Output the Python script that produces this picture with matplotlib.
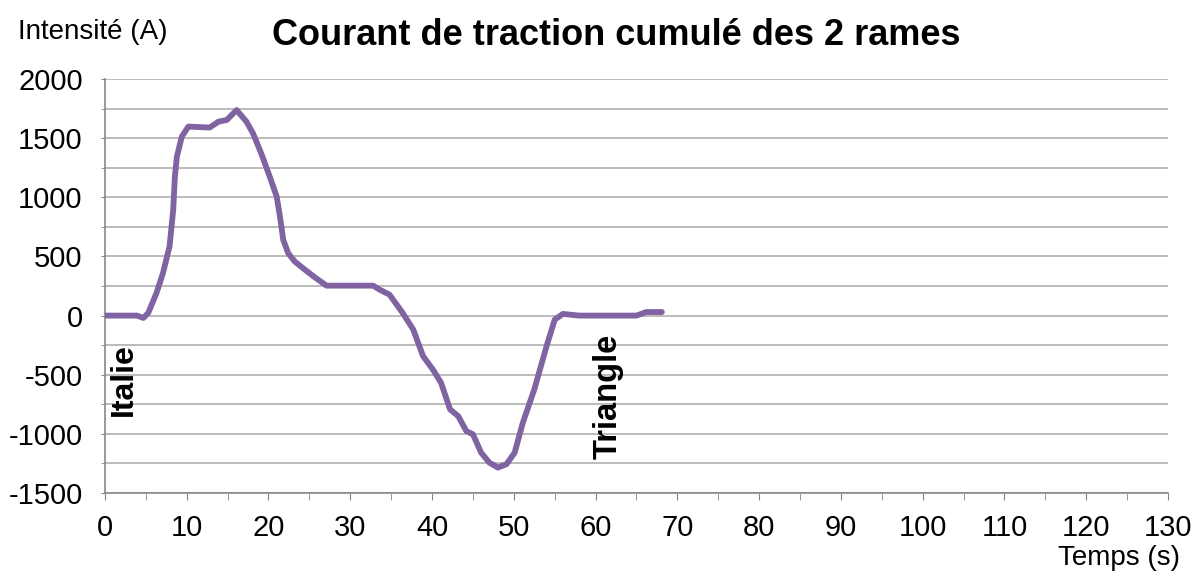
import numpy as np
import matplotlib.pyplot as plt

plt.rcParams['font.family'] = ['Liberation Sans', 'DejaVu Sans']
plt.rcParams['axes.unicode_minus'] = False

# temps (s) et courant (A)
temps = [0, 3.9, 4.7, 5.3, 6.3, 7.1, 7.9, 8.35, 8.55, 8.8, 9.4, 10.2, 12.8, 13.9,
         14.9, 16.1, 17.3, 18.1, 19.1, 20.0, 21.0, 21.4, 21.8, 22.4, 23.2, 24.2,
         25.5, 27.1, 32.8, 33.6, 34.8, 36.4, 37.7, 38.9, 40.1, 41.1, 42.2, 43.2,
         44.2, 45.0, 46.0, 47.0, 48.05, 49.1, 50.1, 51.1, 52.5, 54.0, 55.0, 56.0,
         58.0, 65.0, 66.2, 68.1]
courant = [0, 0, -20, 23, 190, 360, 585, 895, 1175, 1345, 1513, 1598, 1590, 1640,
           1654, 1738, 1640, 1542, 1373, 1204, 1007, 838, 641, 529, 458, 402,
           332, 253, 253, 219, 177, 23, -118, -343, -456, -568, -793, -850,
           -977, -1004, -1159, -1243, -1285, -1257, -1159, -906, -625, -259, -34, 14,
           0, 0, 30, 30]

xticks = list(range(0, 131, 10))
yticks = list(range(-1500, 2001, 500))

fig = plt.figure(figsize=(11.98, 5.77), dpi=100)
ax = fig.add_axes([0.0876, 0.1456, 0.8874, 0.7174])

ax.plot(temps, courant, color='#8064A2', lw=4.2, solid_joinstyle='round',
        solid_capstyle='round', zorder=3)

ax.set_xlim(0, 130)
ax.set_ylim(-1500, 2000)
ax.set_xticks(xticks)
ax.set_xticks(np.arange(5, 130, 10), minor=True)
ax.set_yticks(yticks)
ax.set_yticks(np.arange(-1250, 2000, 500), minor=True)
ax.grid(axis='y', which='both', color='#AFAFAF', lw=1.2)
ax.tick_params(axis='x', which='both', length=5, color='#888888', labelsize=21, pad=10)
ax.tick_params(axis='y', which='both', length=3, color='#888888', labelsize=21, pad=13)
for s in ['top', 'right']:
    ax.spines[s].set_visible(False)
for s in ['left', 'bottom']:
    ax.spines[s].set_color('#888888')
    ax.spines[s].set_linewidth(1.2)

ax.text(2.3, -540, 'Italie', rotation=90, fontsize=23, fontweight='bold',
        ha='center', va='center')
ax.text(61.5, -680, 'Triangle', rotation=90, fontsize=23.5, fontweight='bold',
        ha='center', va='center')

fig.text(0.514, 0.938, 'Courant de traction cumulé des 2 rames', fontsize=26,
         fontweight='bold', ha='center', va='center')
fig.text(0.015, 0.944, 'Intensité (A)', fontsize=20, ha='left', va='center')
fig.text(0.985, 0.033, 'Temps (s)', fontsize=20, ha='right', va='center')

fig.savefig('out.png', dpi=100)
